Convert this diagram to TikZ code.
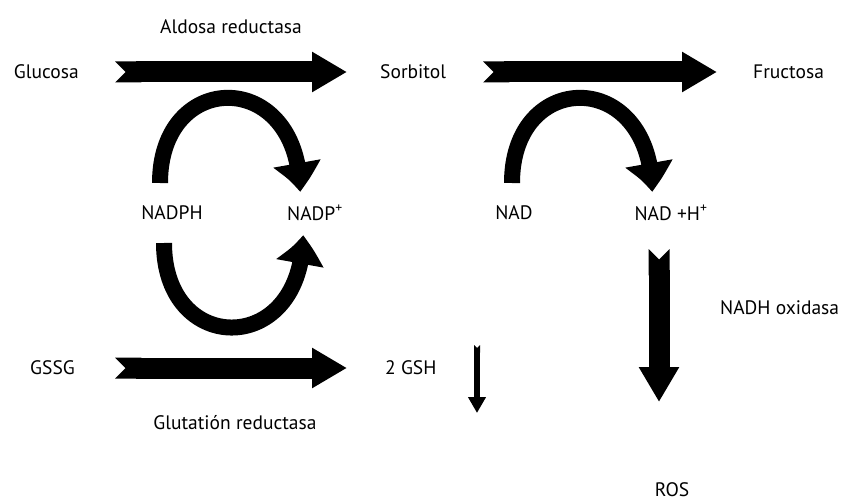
\documentclass[tikz,border=0pt]{standalone}
\usepackage{fontspec}
\setmainfont{PT Sans}
\usetikzlibrary{arrows.meta,bending}
\begin{document}
\begin{tikzpicture}[x=1pt,y=-1pt,
  lbl/.style={inner sep=0pt,font=\fontsize{19.5}{22}\selectfont},
  fat/.style={line width=21pt,{Triangle Cap[reversed]}-{Triangle[length=35pt,width=38pt]}},
  thin arrow/.style={line width=6pt,{Triangle Cap[reversed]}-{Triangle[length=16pt,width=17pt]}},
  loop/.style={line width=16pt,-{Triangle[length=30pt,width=45pt,bend]}}]
\useasboundingbox (0,0) rectangle (844,503);
\node[lbl,anchor=east] (glu) at (79,72) {Glucosa};
\node[lbl,anchor=west] (sor) at (380,72) {Sorbitol};
\node[lbl,anchor=west] (fru) at (753,72) {Fructosa};
\node[lbl] (ar) at (231,27) {Aldosa reductasa};
\node[lbl] (nadph) at (172,213) {NADPH};
\node[lbl] (nadp) at (315,213) {NADP\textsuperscript{+}};
\node[lbl] (nad) at (514,213) {NAD};
\node[lbl] (nadh) at (671,213) {NAD +H\textsuperscript{+}};
\node[lbl,anchor=east] (gssg) at (75,368) {GSSG};
\node[lbl,anchor=west] (gsh) at (385,368) {2 GSH};
\node[lbl] (gr) at (235,423) {Glutatión reductasa};
\node[lbl,anchor=west] (nox) at (720,308) {NADH oxidasa};
\node[lbl] (ros) at (672,490) {ROS};
\coordinate (down1) at (477,345);
\coordinate (down2) at (477,413);
\draw[fat,shorten <=36pt,shorten >=33pt] (glu.east) -- (sor.west);
\draw[fat,shorten <=37pt,shorten >=36pt] (sor.east) -- (fru.west);
\draw[fat,shorten <=40pt,shorten >=38pt] (gssg.east) -- (gsh.west);
\draw[loop] ([shift={(-12,-30)}]nadph.center) .. controls +(0,-115) and +(0,-124) .. ([shift={(-15,-21)}]nadp.center);
\draw[loop] ([shift={(-8,30)}]nadph.center) .. controls +(0,114) and +(0,122) .. ([shift={(-12,22)}]nadp.center);
\draw[loop] ([shift={(-2,-30)}]nad.center) .. controls +(0,-115) and +(0,-124) .. ([shift={(-19,-21)}]nadh.center);
\draw[fat] ([shift={(-12,36)}]nadh.center) -- ([shift={(-13,-88)}]ros.center);
\draw[thin arrow] (down1) -- (down2);
\end{tikzpicture}
\end{document}
